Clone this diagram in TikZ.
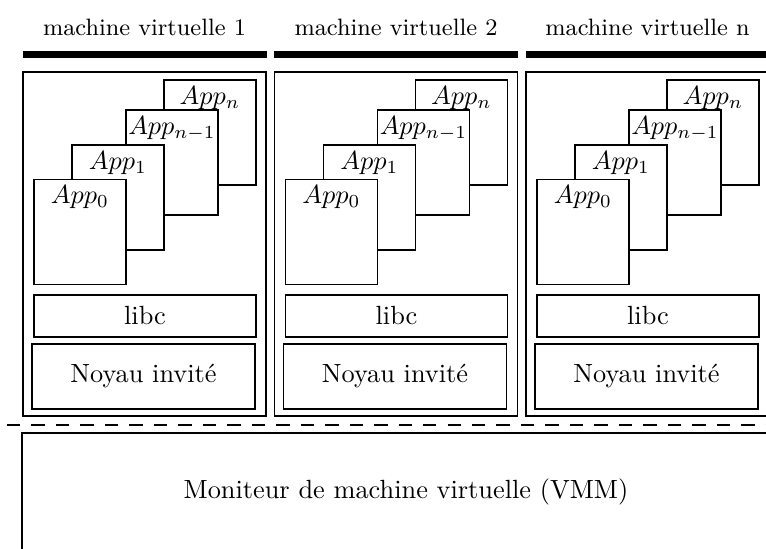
\documentclass[tikz,border=0pt]{standalone}
\usepackage{amsmath}
\usepackage{tikz}
\usetikzlibrary{calc}

\tikzset{
    boite/.style={draw, line width=0.7pt, inner sep=0pt},
    vmbox/.style={boite, minimum width=92.3pt, minimum height=130.7pt},
    appbox/.style={boite, fill=white, minimum width=35pt, minimum height=39.9pt},
    libbox/.style={boite, minimum width=84.4pt, minimum height=16pt},
    noyaubox/.style={boite, minimum width=84.7pt, minimum height=24.7pt},
    titre/.style={font=\small, inner sep=0pt},
    barre/.style={line width=2.9pt},
}

\begin{document}
\begin{tikzpicture}[x=0.38pt,y=-0.38pt]

    % Cadre de l'image (coupée à droite et en bas)
    \path[use as bounding box, clip] (0,0) rectangle (766,549);

    % Les machines virtuelles
    \foreach \i/\n [evaluate=\i as \x using 23+251.5*\i] in {0/1,1/2,2/n} {
        \node[titre] (titre\i) at (\x+121.5,27) {machine virtuelle \n};
        \draw[barre] (\x,54.5) -- (\x+244,54.5);
        \node[vmbox] (vm\i) at (\x+121.5,244) {};

        % Applications, de l'arrière vers l'avant
        \node[appbox, label={[anchor=north,inner sep=2.5pt]north:$App_n$}] (appn\i) at (\x+187,132.5) {};
        \node[appbox, label={[anchor=north,inner sep=2.5pt]north:$App_{n-1}$}] (appm\i) at (\x+149,162.5) {};
        \node[appbox, label={[anchor=north,inner sep=2.5pt]north:$App_1$}] (appa\i) at (\x+95,197.5) {};
        \node[appbox, label={[anchor=north,inner sep=2.5pt]north:$App_0$}] (appz\i) at (\x+57,232) {};

        \node[libbox] (libc\i) at (\x+122,316) {libc};
        \node[noyaubox] (noyau\i) at (\x+120.5,376.5) {Noyau invité};
    }

    % Séparation invité / hôte
    \draw[dash pattern=on 5.1pt off 4.2pt, line width=0.75pt] (7,425) -- (770,425);

    % Moniteur
    \node[boite, minimum width=291.8pt, minimum height=44.8pt] (vmm) at (406,492) {Moniteur de machine virtuelle (VMM)};

\end{tikzpicture}
\end{document}
